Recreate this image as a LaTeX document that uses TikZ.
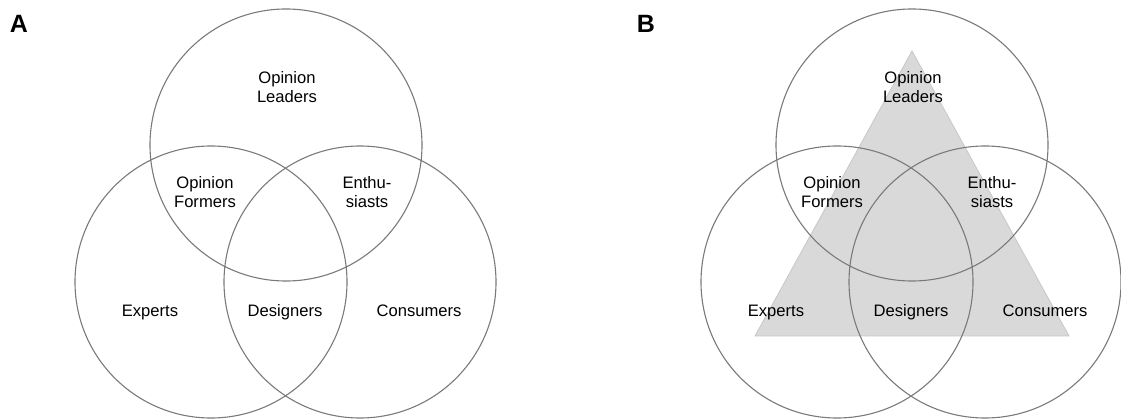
\documentclass[tikz,border=0pt]{standalone}
\usepackage{fontspec}
\setmainfont{Liberation Sans}
\begin{document}
\begin{tikzpicture}[x=1pt,y=-1pt,
  setcircle/.style={draw=black!52,line width=1.1pt,circle,minimum size=272pt,inner sep=0pt},
  lbl/.style={align=center,font=\fontsize{16.6}{19.5}\selectfont,inner sep=0pt},
  rowlbl/.style={lbl,anchor=base},
  panel/.style={font=\fontsize{25}{25}\selectfont\bfseries,inner sep=0pt},
  pyramid/.style={fill=black!15,draw=black!22,line width=0.8pt}]
\useasboundingbox (0,0) rectangle (1121,419);

% ---- Panel A ----
\node[panel] (pa) at (19,24) {A};
\node[setcircle] (aTop)   at (286,145) {};
\node[setcircle] (aLeft)  at (211,282) {};
\node[setcircle] (aRight) at (360,282) {};
\node[lbl] (aLeaders)   at (287,87)  {Opinion\\Leaders};
\node[lbl] (aFormers)   at (205,192) {Opinion\\Formers};
\node[lbl] (aEnthu)     at (367,192) {Enthu-\\siasts};
\node[rowlbl] (aExperts)   at (150,317) {Experts};
\node[rowlbl] (aDesigners) at (285,317) {Designers};
\node[rowlbl] (aConsumers) at (419,317) {Consumers};

% ---- Panel B ----
\node[panel] (pb) at (646,24) {B};
\coordinate (apex)  at (912,51);
\coordinate (baseL) at (755,336);
\coordinate (baseR) at (1069,336);
\draw[pyramid] (apex) -- (baseR) -- (baseL) -- cycle;
\node[setcircle] (bTop)   at (912,145) {};
\node[setcircle] (bLeft)  at (837,282) {};
\node[setcircle] (bRight) at (985,282) {};
\node[lbl] (bLeaders)   at (913,87)  {Opinion\\Leaders};
\node[lbl] (bFormers)   at (832,192) {Opinion\\Formers};
\node[lbl] (bEnthu)     at (992,192) {Enthu-\\siasts};
\node[rowlbl] (bExperts)   at (776,317) {Experts};
\node[rowlbl] (bDesigners) at (911,317) {Designers};
\node[rowlbl] (bConsumers) at (1045,317) {Consumers};
\end{tikzpicture}
\end{document}
